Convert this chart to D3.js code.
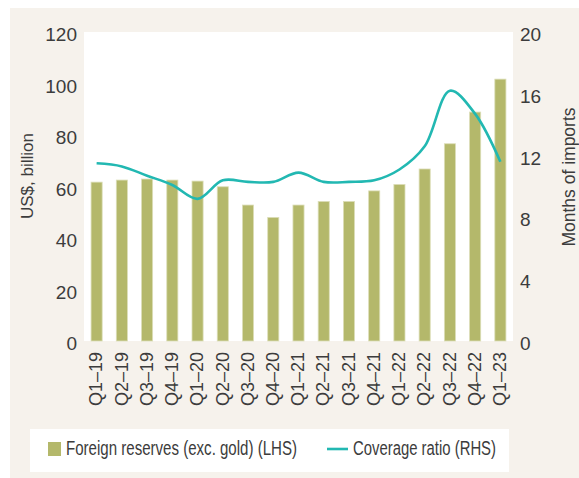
<!DOCTYPE html>
<html>
<head>
<meta charset="utf-8">
<script src="https://cdn.jsdelivr.net/npm/d3@7"></script>
<style>
  body { margin: 0; background: #fff; }
  svg text { font-family: "Liberation Sans", Arial, sans-serif; fill: #3c3c3c; }
</style>
</head>
<body>
<svg id="chart" width="579" height="478"></svg>
<script>
// quarters on the x axis
const quarters = ["Q1–19", "Q2–19", "Q3–19", "Q4–19", "Q1–20", "Q2–20", "Q3–20", "Q4–20",
  "Q1–21", "Q2–21", "Q3–21", "Q4–21", "Q1–22", "Q2–22", "Q3–22", "Q4–22", "Q1–23"];
// foreign reserves excl. gold, US$ bn (LHS)
const reserves = [61.7, 62.5, 62.9, 62.5, 62.1, 59.9, 52.8, 48.0,
  52.8, 54.2, 54.2, 58.3, 60.8, 66.8, 76.6, 88.9, 101.7];
// coverage ratio, months of imports (RHS)
const coverage = [11.5, 11.3, 10.7, 10.1, 9.2, 10.4, 10.3, 10.3,
  10.9, 10.3, 10.3, 10.4, 11.1, 12.6, 16.2, 14.7, 11.6];
const leftTicks = [0, 20, 40, 60, 80, 100, 120];
const rightTicks = [0, 4, 8, 12, 16, 20];

const plot = { left: 84, right: 513, top: 32, bottom: 341 };
const svg = d3.select("#chart");

svg.append("rect").attr("x", 10).attr("y", 8).attr("width", 569).attr("height", 470)
  .attr("fill", "#f6f2ec");
svg.append("rect").attr("x", plot.left).attr("y", plot.top)
  .attr("width", plot.right - plot.left).attr("height", plot.bottom - plot.top)
  .attr("fill", "#fff");

const x = d3.scaleBand().domain(quarters).range([plot.left, plot.right]).paddingInner(0.56).paddingOuter(0.28);
const yL = d3.scaleLinear().domain([0, 120]).range([plot.bottom, plot.top]);
const yR = d3.scaleLinear().domain([0, 20]).range([plot.bottom, plot.top]);

// bars
svg.append("g").selectAll("rect")
  .data(reserves)
  .join("rect")
  .attr("x", (d, i) => x(quarters[i]))
  .attr("y", d => yL(d))
  .attr("width", x.bandwidth())
  .attr("height", d => plot.bottom - yL(d))
  .attr("fill", "#b4b86b")
  .attr("stroke", "#dcdeb8")
  .attr("stroke-width", 0.8);

// coverage line
const line = d3.line()
  .x((d, i) => x(quarters[i]) + x.bandwidth() / 2)
  .y(d => yR(d))
  .curve(d3.curveCatmullRom.alpha(0.5));
svg.append("path")
  .datum(coverage)
  .attr("d", line)
  .attr("fill", "none")
  .attr("stroke", "#22b8b2")
  .attr("stroke-width", 2.6);

// left axis labels
svg.append("g").selectAll("text")
  .data(leftTicks)
  .join("text")
  .attr("x", 77)
  .attr("y", d => yL(d) + 4)
  .attr("text-anchor", "end")
  .attr("dominant-baseline", "middle")
  .style("font-size", "19px")
  .text(d => d);

// right axis labels
svg.append("g").selectAll("text")
  .data(rightTicks)
  .join("text")
  .attr("x", 520)
  .attr("y", d => yR(d) + 4)
  .attr("dominant-baseline", "middle")
  .style("font-size", "19px")
  .text(d => d);

// x labels
svg.append("g").selectAll("text")
  .data(quarters)
  .join("text")
  .attr("transform", d => `translate(${x(d) + x.bandwidth() / 2 + 1},352) rotate(-90)`)
  .attr("text-anchor", "end")
  .attr("dominant-baseline", "middle")
  .style("font-size", "18px")
  .text(d => d);

// axis titles
svg.append("text")
  .attr("transform", "translate(29,176) rotate(-90)")
  .attr("text-anchor", "middle")
  .attr("dominant-baseline", "middle")
  .style("font-size", "17px")
  .text("US$, billion");
svg.append("text")
  .attr("transform", "translate(570,177) rotate(-90)")
  .attr("text-anchor", "middle")
  .attr("dominant-baseline", "middle")
  .style("font-size", "17.5px")
  .text("Months of imports");

// legend (font squeezed to look condensed)
const legend = svg.append("g");
legend.append("rect").attr("x", 30).attr("y", 429).attr("width", 479).attr("height", 43).attr("fill", "#fff");
legend.append("rect").attr("x", 48).attr("y", 442).attr("width", 13).attr("height", 14).attr("fill", "#b4b86b");
legend.append("text").attr("x", 66).attr("y", 450)
  .attr("dominant-baseline", "middle")
  .attr("textLength", 231).attr("lengthAdjust", "spacingAndGlyphs")
  .style("font-size", "19.5px")
  .text("Foreign reserves (exc. gold) (LHS)");
legend.append("line").attr("x1", 327).attr("x2", 348).attr("y1", 449).attr("y2", 449)
  .attr("stroke", "#22b8b2").attr("stroke-width", 2.6);
legend.append("text").attr("x", 353).attr("y", 450)
  .attr("dominant-baseline", "middle")
  .attr("textLength", 143).attr("lengthAdjust", "spacingAndGlyphs")
  .style("font-size", "19.5px")
  .text("Coverage ratio (RHS)");
</script>
</body>
</html>
